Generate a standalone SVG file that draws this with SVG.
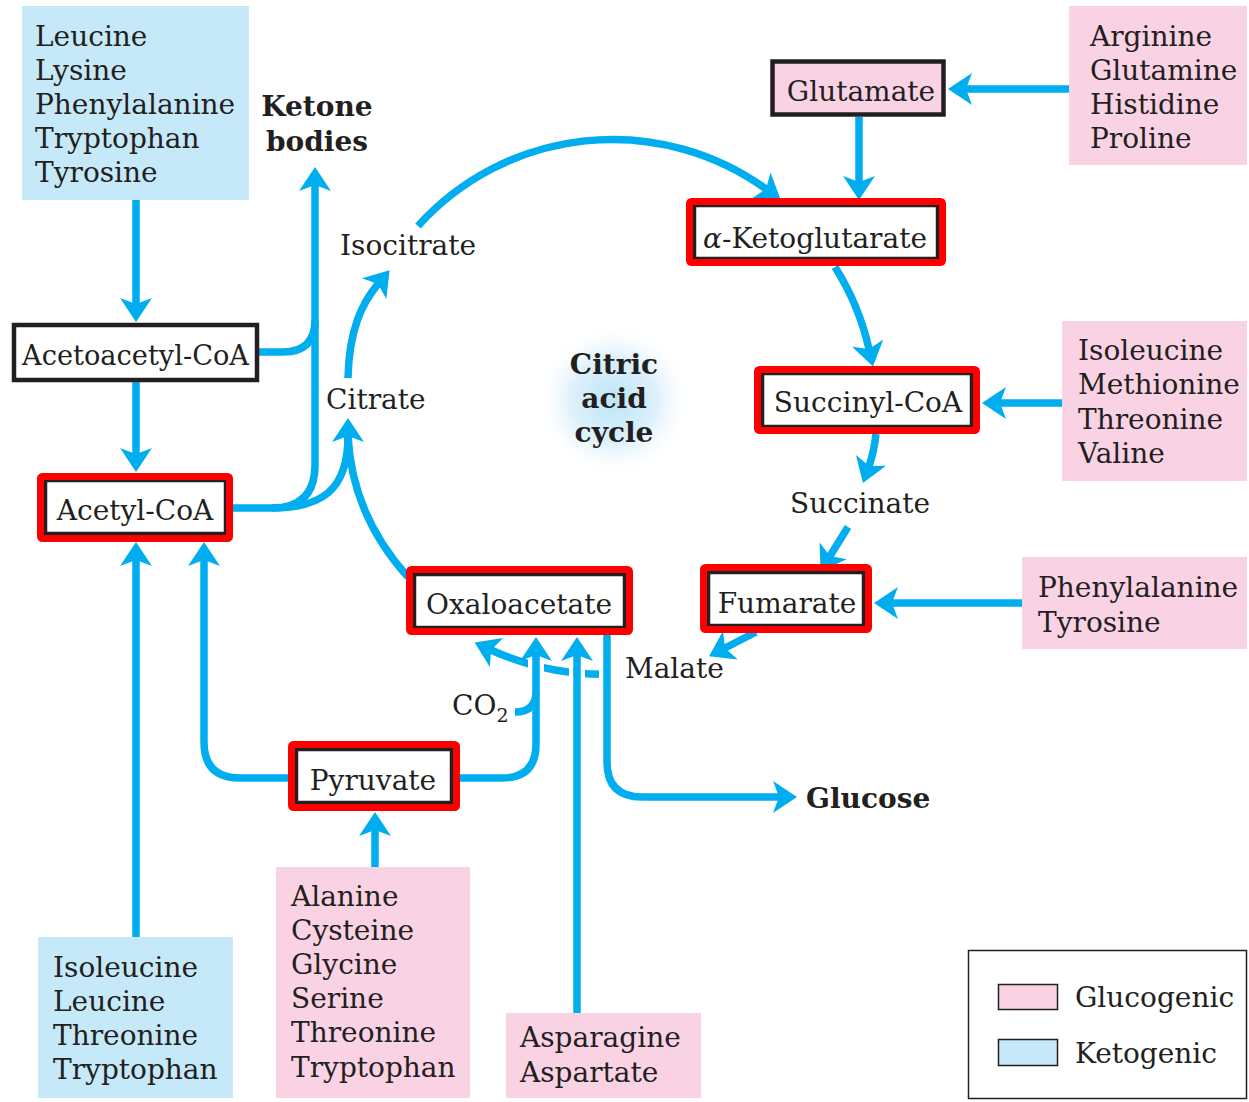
<svg xmlns="http://www.w3.org/2000/svg" width="1249" height="1102" viewBox="0 0 1249 1102">
  <style>
    .t { font-family: "DejaVu Serif", "Liberation Serif", serif; font-size: 28px; fill: #231F20; }
    .b { font-weight: bold; }
    .mid { text-anchor: middle; }
    .keto { fill: #C6E9FA; }
    .gluco { fill: #F9D3E4; }
    .blk { fill: #FFFFFF; stroke: #231F20; stroke-width: 4.5; }
    .red { fill: none; stroke: #FF0000; stroke-width: 7; }
    .ln { fill: none; stroke: #00AEEF; stroke-width: 7.5; }
    .arr { marker-end: url(#ah); }
    .halo { fill: none; stroke: #FFFFFF; stroke-width: 16; }
  </style>
  <defs>
    <marker id="ah" markerUnits="userSpaceOnUse" markerWidth="30" markerHeight="40" viewBox="0 -20 30 40" refX="6" refY="0" orient="auto" overflow="visible">
      <path d="M24,0 L0,-16 L6,0 L0,16 Z" fill="#00AEEF"/>
    </marker>
    <radialGradient id="glow" cx="0.5" cy="0.5" r="0.5">
      <stop offset="0" stop-color="#BDE5F8"/>
      <stop offset="0.55" stop-color="#DDF1FB"/>
      <stop offset="1" stop-color="#FFFFFF" stop-opacity="0"/>
    </radialGradient>
  </defs>
  <rect width="1249" height="1102" fill="#FFFFFF"/>

  <!-- cycle label with soft glow -->
  <g id="cycle-label">
    <circle cx="614" cy="400" r="78" fill="url(#glow)"/>
    <text class="t b mid" x="614" y="374">Citric</text>
    <text class="t b mid" x="614" y="408">acid</text>
    <text class="t b mid" x="614" y="442">cycle</text>
  </g>

  <!-- connectors -->
  <g id="connectors">
    <!-- dashed malate to oxaloacetate arc, broken by crossing lines -->
    <path class="ln arr" d="M614,674 A270,270 0 0 1 491,650"/>
    <path class="halo" d="M536,650 L536,678 M577,658 L577,686 M607,661 L607,690"/>

    <path class="ln arr" d="M136,200 L136,304"/>
    <path class="ln arr" d="M136,382 L136,454"/>
    <path class="ln arr" d="M136,937 L136,560"/>
    <path class="ln" d="M258,352 L283,352 Q315,352 315,320"/>
    <path class="ln arr" d="M232,508 L272,508 Q315,508 315,465 L315,185"/>
    <path class="ln arr" d="M272,508 C322,508 348,490 348,436"/>
    <path class="ln" d="M408,577 Q352,515 348,436"/>
    <path class="ln arr" d="M348,378 C349,330 362,303 378,284"/>
    <path class="ln arr" d="M418,226 A262,262 0 0 1 766,189"/>
    <path class="ln arr" d="M859,117 L859,182"/>
    <path class="ln arr" d="M1069,89 L966,89"/>
    <path class="ln arr" d="M835,267 A262,262 0 0 1 869,349"/>
    <path class="ln arr" d="M1062,403 L1000,403"/>
    <path class="ln arr" d="M876,434 Q874,452 869,466"/>
    <path class="ln arr" d="M848,527 L830,556"/>
    <path class="ln arr" d="M1022,603 L892,603"/>
    <path class="ln arr" d="M756,632 L725,648"/>
    <path class="ln arr" d="M288,778 L240,778 Q204,778 204,742 L204,560"/>
    <path class="ln arr" d="M460,778 L502,778 Q536,778 536,744 L536,655"/>
    <path class="ln" d="M515,712 Q536,712 536,692"/>
    <path class="ln arr" d="M577,1013 L577,655"/>
    <path class="ln arr" d="M375,867 L375,830"/>
    <path class="ln arr" d="M607,635 L607,762 Q607,797 642,797 L779,797"/>
  </g>

  <!-- amino acid groups -->
  <g id="keto-top">
    <rect class="keto" x="22" y="6" width="227" height="194"/>
    <text class="t" x="35" y="46">Leucine</text>
    <text class="t" x="35" y="80">Lysine</text>
    <text class="t" x="35" y="114">Phenylalanine</text>
    <text class="t" x="35" y="148">Tryptophan</text>
    <text class="t" x="35" y="182">Tyrosine</text>
  </g>
  <g id="gluco-glutamate-sources">
    <rect class="gluco" x="1069" y="6" width="178" height="159"/>
    <text class="t" x="1090" y="46">Arginine</text>
    <text class="t" x="1090" y="80">Glutamine</text>
    <text class="t" x="1090" y="114">Histidine</text>
    <text class="t" x="1090" y="148">Proline</text>
  </g>
  <g id="gluco-succinyl-sources">
    <rect class="gluco" x="1062" y="321" width="185" height="160"/>
    <text class="t" x="1078" y="360">Isoleucine</text>
    <text class="t" x="1078" y="394">Methionine</text>
    <text class="t" x="1078" y="429">Threonine</text>
    <text class="t" x="1078" y="463">Valine</text>
  </g>
  <g id="gluco-fumarate-sources">
    <rect class="gluco" x="1022" y="557" width="225" height="92"/>
    <text class="t" x="1038" y="597">Phenylalanine</text>
    <text class="t" x="1038" y="632">Tyrosine</text>
  </g>
  <g id="keto-bottom">
    <rect class="keto" x="38" y="937" width="195" height="161"/>
    <text class="t" x="53" y="977">Isoleucine</text>
    <text class="t" x="53" y="1011">Leucine</text>
    <text class="t" x="53" y="1045">Threonine</text>
    <text class="t" x="53" y="1079">Tryptophan</text>
  </g>
  <g id="gluco-pyruvate-sources">
    <rect class="gluco" x="276" y="867" width="194" height="231"/>
    <text class="t" x="291" y="906">Alanine</text>
    <text class="t" x="291" y="940">Cysteine</text>
    <text class="t" x="291" y="974">Glycine</text>
    <text class="t" x="291" y="1008">Serine</text>
    <text class="t" x="291" y="1042">Threonine</text>
    <text class="t" x="291" y="1077">Tryptophan</text>
  </g>
  <g id="gluco-oxaloacetate-sources">
    <rect class="gluco" x="506" y="1013" width="195" height="85"/>
    <text class="t" x="520" y="1047">Asparagine</text>
    <text class="t" x="520" y="1082">Aspartate</text>
  </g>

  <!-- intermediates -->
  <g id="acetoacetyl-coa">
    <rect class="blk" x="14" y="325" width="243" height="55" stroke-width="5"/>
    <text class="t" x="22" y="365" textLength="227" lengthAdjust="spacingAndGlyphs">Acetoacetyl-CoA</text>
  </g>
  <g id="acetyl-coa">
    <rect class="blk" x="45" y="480" width="181" height="54"/>
    <rect class="red" x="40.5" y="476.5" width="189" height="62" rx="2"/>
    <text class="t mid" x="135" y="520">Acetyl-CoA</text>
  </g>
  <g id="glutamate">
    <rect class="blk" x="772.5" y="61.5" width="171" height="53" stroke-width="5" style="fill:#F9D3E4"/>
    <text class="t mid" x="861" y="101">Glutamate</text>
  </g>
  <g id="alpha-ketoglutarate">
    <rect class="blk" x="694" y="205" width="244" height="54"/>
    <rect class="red" x="689.5" y="201.5" width="253" height="61" rx="2"/>
    <text class="t mid" x="815" y="248"><tspan font-style="italic">α</tspan>-Ketoglutarate</text>
  </g>
  <g id="succinyl-coa">
    <rect class="blk" x="762" y="373" width="210" height="54"/>
    <rect class="red" x="757.5" y="369.5" width="219" height="61" rx="2"/>
    <text class="t mid" x="868" y="412">Succinyl-CoA</text>
  </g>
  <g id="fumarate">
    <rect class="blk" x="708" y="572" width="156" height="54"/>
    <rect class="red" x="703.5" y="567.5" width="165" height="62" rx="2"/>
    <text class="t mid" x="787" y="613">Fumarate</text>
  </g>
  <g id="oxaloacetate">
    <rect class="blk" x="414" y="574" width="211" height="54"/>
    <rect class="red" x="409.5" y="569.5" width="220" height="62" rx="2"/>
    <text class="t mid" x="519" y="614">Oxaloacetate</text>
  </g>
  <g id="pyruvate">
    <rect class="blk" x="296" y="749" width="156" height="54"/>
    <rect class="red" x="291.5" y="744.5" width="165" height="63" rx="2"/>
    <text class="t mid" x="373" y="790">Pyruvate</text>
  </g>

  <!-- free labels -->
  <g id="ketone-bodies">
    <text class="t b mid" x="317" y="116">Ketone</text>
    <text class="t b mid" x="317" y="151">bodies</text>
  </g>
  <g id="isocitrate"><text class="t" x="340" y="255">Isocitrate</text></g>
  <g id="citrate"><text class="t" x="326" y="409">Citrate</text></g>
  <g id="succinate"><text class="t" x="790" y="513">Succinate</text></g>
  <g id="malate"><text class="t" x="625" y="678">Malate</text></g>
  <g id="co2"><text class="t" x="452" y="715">CO<tspan font-size="19" dy="7">2</tspan></text></g>
  <g id="glucose"><text class="t b" x="806" y="808">Glucose</text></g>

  <!-- legend -->
  <g id="legend">
    <rect x="968.5" y="950.5" width="278" height="148" fill="#FFFFFF" stroke="#231F20" stroke-width="1.5"/>
    <rect class="gluco" x="998.5" y="984.5" width="59" height="25" stroke="#231F20" stroke-width="1.5"/>
    <rect class="keto" x="998.5" y="1039.5" width="59" height="26" stroke="#231F20" stroke-width="1.5"/>
    <text class="t" x="1075" y="1007">Glucogenic</text>
    <text class="t" x="1075" y="1063">Ketogenic</text>
  </g>
</svg>
